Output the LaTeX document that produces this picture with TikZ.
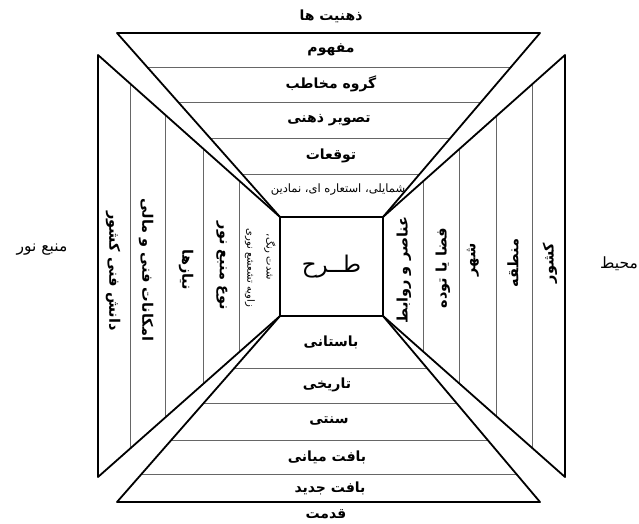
\documentclass[tikz,border=0pt]{standalone}
\usepackage{fontspec}
\newfontfamily\fa[Script=Arabic]{DejaVu Sans}
\TeXXeTstate=1
\usetikzlibrary{calc}
\begin{document}
\begin{tikzpicture}[x=1pt,y=-1pt,
  edge/.style={line width=1.8pt, line join=round},
  thin/.style={line width=0.9pt, black!60},
  lbl/.style={font=\fa\bfseries\fontsize{14}{16}\selectfont, inner sep=0pt},
  small/.style={font=\fa\fontsize{11.5}{13}\selectfont, inner sep=0pt},
  tiny/.style={font=\fa\fontsize{10}{12}\selectfont, inner sep=0pt},
  side/.style={font=\fa\bfseries\fontsize{14.5}{16}\selectfont, inner sep=0pt},
  outer/.style={font=\fa\fontsize{15.5}{17}\selectfont, inner sep=0pt},
]
\useasboundingbox[fill=white] (0,0) rectangle (639,524);
% centre square
\node[draw, line width=1.8pt, outer sep=0pt, inner sep=0pt, minimum width=103pt, minimum height=99pt,
  font=\fa\fontsize{23}{25}\selectfont] (design) at (331.5,266.5) {\beginR طــرح\endR};
\coordinate (sTL) at (design.north west);
\coordinate (sTR) at (design.north east);
\coordinate (sBL) at (design.south west);
\coordinate (sBR) at (design.south east);
% outer corners
\coordinate (tTL) at (117,33);
\coordinate (tTR) at (540,33);
\coordinate (bBL) at (117,502);
\coordinate (bBR) at (540,502);
\coordinate (lT) at (98,55);
\coordinate (lB) at (98,477);
\coordinate (rT) at (565,55);
\coordinate (rB) at (565,477);
% inner dividing lines
\foreach \t in {0.1848,0.375,0.5707,0.7663}
  \draw[thin] ($(tTL)!\t!(sTL)$) -- ($(tTR)!\t!(sTR)$);
\foreach \t in {0.2796,0.4677,0.6667,0.8495}
  \draw[thin] ($(sBL)!\t!(bBL)$) -- ($(sBR)!\t!(bBR)$);
\foreach \t in {0.1758,0.3681,0.5769,0.7747}
  \draw[thin] ($(lT)!\t!(sTL)$) -- ($(lB)!\t!(sBL)$);
\foreach \t in {0.1813,0.3791,0.5824,0.7802}
  \draw[thin] ($(rT)!\t!(sTR)$) -- ($(rB)!\t!(sBR)$);
% labels
\node[lbl] (t0) at (331,16) {\beginR ذهنیت ها\endR};
\node[lbl] (t1) at (331,50) {\beginR مفهوم\endR};
\node[lbl] (t2) at (331,84) {\beginR گروه مخاطب\endR};
\node[lbl] (t3) at (329,120) {\beginR تصویر ذهنی\endR};
\node[lbl] (t4) at (331,156) {\beginR توقعات\endR};
\node[small] (t5) at (338,190) {\beginR شمایلی، استعاره ای، نمادین\endR};
\node[lbl] (b1) at (331,342) {\beginR باستانی\endR};
\node[lbl] (b2) at (327,385) {\beginR تاریخی\endR};
\node[lbl] (b3) at (329,421) {\beginR سنتی\endR};
\node[lbl] (b4) at (327,457) {\beginR بافت میانی\endR};
\node[lbl] (b5) at (330,488) {\beginR بافت جدید\endR};
\node[lbl] (b6) at (326,514) {\beginR قدمت\endR};
\node[side, rotate=-90] (l1) at (113,271) {\beginR دانش فنی کشور\endR};
\node[side, rotate=-90] (l2) at (146,270) {\beginR امکانات فنی و مالی\endR};
\node[side, rotate=-90] (l3) at (186,270) {\beginR نیازها\endR};
\node[side, rotate=-90] (l4) at (222,266) {\beginR نوع منبع نور\endR};
\node[tiny, rotate=-90] (l5) at (250,268) {\beginR زاویه تشعشع نوری\endR};
\node[tiny, rotate=-90] (l6) at (270,257) {\beginR شدت رنگ،\endR};
\node[outer] (lsrc) at (42,250) {\beginR منبع نور\endR};
\node[side, rotate=90] (r1) at (404,270) {\beginR عناصر و روابط\endR};
\node[side, rotate=90] (r2) at (443,268) {\beginR فضا یا توده\endR};
\node[side, rotate=90] (r3) at (473,260) {\beginR شهر\endR};
\node[side, rotate=90] (r4) at (513,263) {\beginR منطقه\endR};
\node[side, rotate=90] (r5) at (550,263) {\beginR کشور\endR};
\node[outer] (renv) at (619,264) {\beginR محیط\endR};
% trapezoids
\draw[edge] (tTL) -- (tTR) -- (sTR) -- (sTL) -- cycle;
\draw[edge] (bBL) -- (bBR) -- (sBR) -- (sBL) -- cycle;
\draw[edge] (lT) -- (sTL) -- (sBL) -- (lB) -- cycle;
\draw[edge] (rT) -- (sTR) -- (sBR) -- (rB) -- cycle;
\end{tikzpicture}
\end{document}
